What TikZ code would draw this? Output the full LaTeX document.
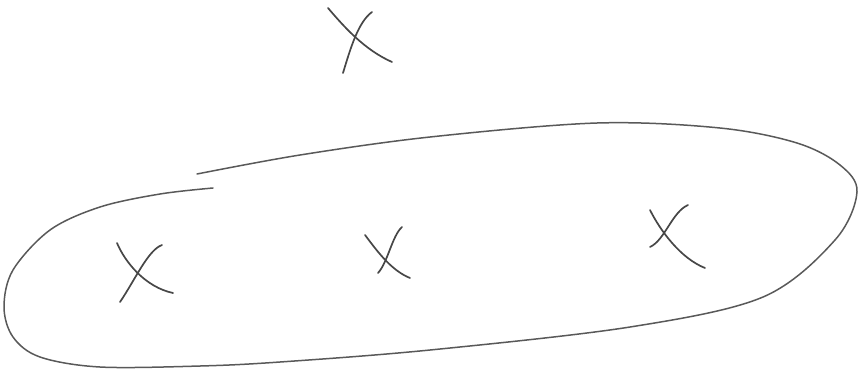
\documentclass[tikz,border=0pt]{standalone}
\begin{document}
\begin{tikzpicture}[x=1pt,y=-1pt,
  pencil/.style={draw=black!65, line width=1.5pt, line cap=round, line join=round},
  cross/.style={draw=black!72, line width=1.7pt, line cap=round}]
\useasboundingbox (0,0) rectangle (859,373);
% loop
\draw[pencil] plot[smooth, tension=0.55] coordinates {
  (197,174) (300,155) (430,137) (597,123) (720,128) (797,143) (840,165) (857,192)
  (835,240) (763,297) (630,327) (430,350) (280,362) (200,366) (100,367) (40,357)
  (13,337) (4,307) (13,270) (50,230) (100,207) (160,194) (213,188)};
% top X
\draw[cross] (328,8) .. controls (345,28) and (365,50) .. (392,62);
\draw[cross] (372,12) .. controls (358,22) and (350,50) .. (343,73);
% left X
\draw[cross] (117,243) .. controls (125,262) and (145,287) .. (173,293);
\draw[cross] (162,245) .. controls (148,250) and (135,280) .. (120,302);
% middle X
\draw[cross] (365,235) .. controls (375,248) and (390,270) .. (410,278);
\draw[cross] (402,227) .. controls (392,236) and (388,262) .. (378,273);
% right X
\draw[cross] (650,210) .. controls (660,230) and (680,258) .. (705,268);
\draw[cross] (688,205) .. controls (672,212) and (665,240) .. (650,247);
\end{tikzpicture}
\end{document}
